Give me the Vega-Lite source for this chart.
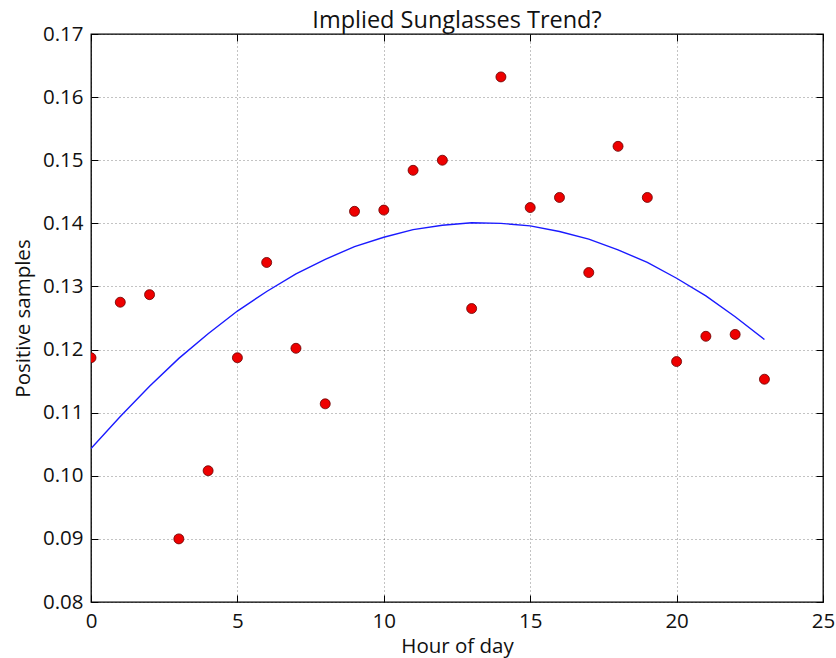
{
  "$schema": "https://vega.github.io/schema/vega-lite/v6.json",
  "width": 732,
  "height": 568,
  "autosize": "none",
  "padding": {"left": 91, "top": 34, "right": 13, "bottom": 56},
  "background": "#ffffff",
  "title": {"text": "Implied Sunglasses Trend?", "font": "Open Sans", "fontSize": 23.5, "fontWeight": "normal", "color": "#111111", "offset": -8},
  "config": {
    "view": {"stroke": "#000000", "strokeWidth": 1.3},
    "axis": {
      "labelFont": "Open Sans", "labelFontSize": 20.5, "labelColor": "#111111", "labelFlush": false,
      "titleFont": "Open Sans", "titleFontSize": 20.5, "titleFontWeight": "normal", "titleColor": "#111111",
      "domain": false, "tickColor": "#000000", "tickWidth": 1, "tickSize": -7,
      "gridColor": "#000000", "gridDash": [1, 3], "gridOpacity": 0.6, "gridWidth": 0.8
    }
  },
  "datasets": {
    "points": [
      {"hour": 0, "positive": 0.1187},
      {"hour": 1, "positive": 0.1275},
      {"hour": 2, "positive": 0.1287},
      {"hour": 3, "positive": 0.0900},
      {"hour": 4, "positive": 0.1008},
      {"hour": 5, "positive": 0.1187},
      {"hour": 6, "positive": 0.1338},
      {"hour": 7, "positive": 0.1202},
      {"hour": 8, "positive": 0.1114},
      {"hour": 9, "positive": 0.1419},
      {"hour": 10, "positive": 0.1421},
      {"hour": 11, "positive": 0.1484},
      {"hour": 12, "positive": 0.1500},
      {"hour": 13, "positive": 0.1265},
      {"hour": 14, "positive": 0.1632},
      {"hour": 15, "positive": 0.1425},
      {"hour": 16, "positive": 0.1441},
      {"hour": 17, "positive": 0.1322},
      {"hour": 18, "positive": 0.1522},
      {"hour": 19, "positive": 0.1441},
      {"hour": 20, "positive": 0.1181},
      {"hour": 21, "positive": 0.1221},
      {"hour": 22, "positive": 0.1224},
      {"hour": 23, "positive": 0.1153}
    ],
    "fit": [
      {"hour": 0, "trend": 0.1043},
      {"hour": 1, "trend": 0.1094},
      {"hour": 2, "trend": 0.1142},
      {"hour": 3, "trend": 0.1186},
      {"hour": 4, "trend": 0.1225},
      {"hour": 5, "trend": 0.1261},
      {"hour": 6, "trend": 0.1292},
      {"hour": 7, "trend": 0.1320},
      {"hour": 8, "trend": 0.1343},
      {"hour": 9, "trend": 0.1363},
      {"hour": 10, "trend": 0.1378},
      {"hour": 11, "trend": 0.1390},
      {"hour": 12, "trend": 0.1397},
      {"hour": 13, "trend": 0.1401},
      {"hour": 14, "trend": 0.1400},
      {"hour": 15, "trend": 0.1396},
      {"hour": 16, "trend": 0.1387},
      {"hour": 17, "trend": 0.1375},
      {"hour": 18, "trend": 0.1358},
      {"hour": 19, "trend": 0.1338},
      {"hour": 20, "trend": 0.1313},
      {"hour": 21, "trend": 0.1285},
      {"hour": 22, "trend": 0.1252},
      {"hour": 23, "trend": 0.1216}
    ]
  },
  "layer": [
    {
      "data": {"name": "fit"},
      "mark": {"type": "line", "color": "#1a1aff", "strokeWidth": 1.4, "clip": true},
      "encoding": {
        "x": {"field": "hour", "type": "quantitative", "scale": {"domain": [0, 25], "nice": false},
              "axis": {"orient": "bottom", "values": [0, 5, 10, 15, 20, 25], "grid": true, "title": "Hour of day", "labelPadding": 16, "titlePadding": 5}},
        "y": {"field": "trend", "type": "quantitative", "scale": {"domain": [0.08, 0.17], "nice": false, "zero": false},
              "axis": {"orient": "left", "values": [0.08, 0.09, 0.1, 0.11, 0.12, 0.13, 0.14, 0.15, 0.16, 0.17], "format": ".2f", "grid": true, "title": "Positive samples", "labelPadding": 15, "titlePadding": 9}}
      }
    },
    {
      "data": {"name": "points"},
      "mark": {"type": "point", "shape": "circle", "filled": true, "fill": "#ee0000", "stroke": "#660000", "strokeWidth": 0.8, "size": 100, "opacity": 1, "clip": true},
      "encoding": {
        "x": {"field": "hour", "type": "quantitative",
              "axis": {"orient": "top", "values": [0, 5, 10, 15, 20, 25], "grid": false, "labels": false, "title": null}},
        "y": {"field": "positive", "type": "quantitative",
              "axis": {"orient": "right", "values": [0.08, 0.09, 0.1, 0.11, 0.12, 0.13, 0.14, 0.15, 0.16, 0.17], "grid": false, "labels": false, "title": null}}
      }
    }
  ],
  "resolve": {"axis": {"x": "independent", "y": "independent"}}
}
